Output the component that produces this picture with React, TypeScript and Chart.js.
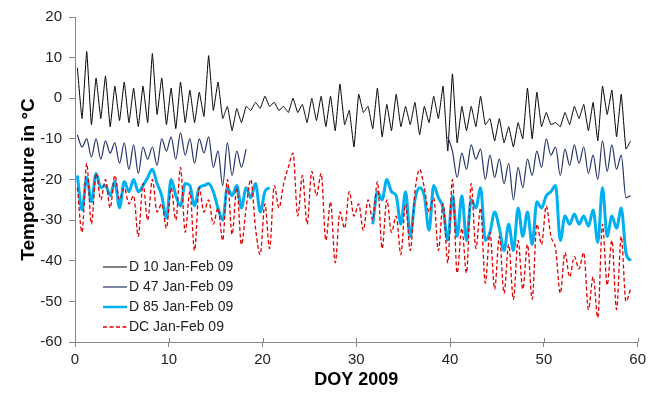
import { useEffect, useRef } from "react";
import { Chart, registerables } from "chart.js";

Chart.register(...registerables);

const FONT = "Arial, 'Liberation Sans', sans-serif";

const SERIES_NAMES = ["D 10 Jan-Feb 09", "D 47 Jan-Feb 09", "D 85 Jan-Feb 09", "DC Jan-Feb 09"];
const X_TICKS = [0, 10, 20, 30, 40, 50, 60];
const Y_TICKS = [-60, -50, -40, -30, -20, -10, 0, 10, 20];
const X_TITLE = "DOY 2009";
const Y_TITLE = "Temperature in °C";

// day-of-year sample points (twice a day)
const DAYS = Array.from({ length: 119 }, (_, i) => 0.25 + i * 0.5);

const D10 = [
  7.5, -5, 11.5, -6.5, 5, -5, 5.5, -7, 3, -5.5,
  4, -6, 2.5, -7, 3, -6, 11, -4, 5, -6.5,
  2.5, -7.5, 4, -6, 2, -6, 1.5, -4.5, 10.5, -3,
  4, -5, -2, -8, -2.5, -6, -2, -3, -1, -2.5,
  0.5, -2, -1, -3, -2, -3.5, 0, -3.5, -1.5, -6,
  0, -5.5, 0.5, -7, 0.5, -8, 3.5, -6.5, -3, -12,
  1, -3.5, -2, -7.5, 2.5, -9.5, -1.5, -8, 1, -7,
  -2, -6.5, -1, -9, -2, -6, 0.5, -5, 3, -13,
  6, -11, -2, -8, -2, -7, 0.5, -6.5, -5, -10.5,
  -5, -11, -7, -12, -6, -10, 2.5, -10, 1.5, -7,
  -3.5, -6.5, -6, -7, -3.5, -6.5, -2, -5, -1.5, -8,
  -1, -10.5, 3, -4, 2, -9.5, 1, -12.5, -10.5,
];

const D47 = [
  -9, -12, -10, -14.5, -10, -15, -10.5, -13.5, -11, -16,
  -11, -17.5, -11.5, -18.5, -12, -15, -12, -16.5, -10, -13,
  -9.5, -15, -8.5, -14, -10, -16, -10, -13.5, -9.5, -17,
  -13, -21.5, -11, -19, -13, -17, -12.5, null, null, null,
  null, null, null, null, null, null, null, null, null, null,
  null, null, null, null, null, null, null, null, null, null,
  null, null, null, null, null, null, null, null, null, null,
  null, null, null, null, null, null, null, null, null, -9.5,
  -13, -19.5, -13.5, -17.5, -11.5, -15, -12.5, -20, -14, -19.5,
  -15, -21, -16, -25, -17, -22, -15, -19, -13, -17,
  -10, -14, -12, -19, -12.5, -16.5, -11.5, -16, -12, -18.5,
  -14, -20, -10.5, -18, -11.5, -17.5, -14, -24.5, -24,
];

const D85 = [
  -19, -27.5, -19.5, -25.5, -18.5, -22, -21.5, -24, -20.5, -27,
  -20.5, -23, -20, -23, -21.5, -19.5, -17.5, -21, -24, -29.5,
  -20, -24, -26.5, -21, -21.5, -26.5, -22, -21.5, -21, -23,
  -27, -30, -22, -24, -21.5, -27, -22, -24.5, -21, -28,
  -23, -22, null, null, null, null, null, null, null, null,
  null, null, null, null, null, null, null, null, null, null,
  null, null, null, -31, -23, -25, -20, -23, -24, -31,
  -23, -34, -25, -22, -24, -32.5, -21.5, -24.5, -27, -35,
  -24, -34, -24, -35, -25, -27, -22, -35, -33, -28,
  -32, -37.5, -31, -37.5, -27, -34, -28, -36, -25.5, -27,
  -24, -23, -21.5, -35, -29, -31, -28.5, -31, -29, -31.5,
  -27.5, -35.5, -22, -34, -29, -32, -27, -38, -40,
];

const DC = [
  -22, -33, -16, -31, -18.5, -25, -20, -27, -19, -25,
  -22, -26, -24, -34, -21, -30, -20, -28, -26, -32,
  -22, -30, -17, -33, -23, -37.5, -22, -28, -25, -31,
  -27, -35, -20, -33.5, -22, -36, -27, -20, -32, -38.5,
  -26, -37, -21.5, -27, -21, -17, -13.5, -29, -19, -31,
  -18, -24, -18.5, -35, -25.5, -40.5, -28, -32, -23, -29,
  -26, -32.5, -25, -30, -20.5, -37, -25, -33, -29, -38.5,
  -26, -37.5, -23, -17.5, -22, -28, -24.5, -37.5, -26, -40.5,
  -20, -43, -32, -43, -21, -37, -27, -45.5, -33, -47,
  -34, -48, -36, -49.5, -35, -47, -36, -49.5, -31, -36,
  -26.5, -34, -37, -48, -38, -44, -39, -42, -38, -52,
  -44, -54, -31, -46, -35, -52, -34, -50, -47,
];

const SERIES = [D10, D47, D85, DC];
const COLORS = ["#000000", "#26346A", "#00B0F0", "#E00000"];
const WIDTHS = [1, 1.2, 3, 1.3];
const DASHES: number[][] = [[], [], [], [4, 2.5]];
const MODES = ["default", "monotone", "monotone", "monotone"];

const AXIS_COLOR = "#868686";

const insideLegend = {
  id: "insideLegend",
  afterDatasetsDraw(chart: any) {
    const { ctx, chartArea } = chart;
    ctx.save();
    ctx.fillStyle = "#ffffff";
    ctx.fillRect(chartArea.left + 24, chartArea.bottom - 85, 140, 82);
    const rows = [75, 55, 35, 15];
    SERIES_NAMES.forEach((name, i) => {
      const y = chartArea.bottom - rows[i];
      ctx.strokeStyle = COLORS[i];
      ctx.lineWidth = i === 2 ? 2.5 : WIDTHS[i];
      ctx.setLineDash(DASHES[i]);
      ctx.beginPath();
      ctx.moveTo(chartArea.left + 28, y);
      ctx.lineTo(chartArea.left + 52, y);
      ctx.stroke();
      ctx.setLineDash([]);
      ctx.fillStyle = "#222222";
      ctx.font = `14px ${FONT}`;
      ctx.textBaseline = "middle";
      ctx.textAlign = "left";
      ctx.fillText(name, chartArea.left + 54, y);
    });
    ctx.restore();
  },
};

const innerTicks = {
  id: "innerTicks",
  afterDraw(chart: any) {
    const { ctx, chartArea, scales } = chart;
    ctx.save();
    ctx.strokeStyle = AXIS_COLOR;
    ctx.lineWidth = 1;
    X_TICKS.forEach((v) => {
      const x = Math.round(scales.x.getPixelForValue(v)) + 0.5;
      ctx.beginPath();
      ctx.moveTo(x, chartArea.bottom - 4);
      ctx.lineTo(x, chartArea.bottom);
      ctx.stroke();
    });
    ctx.restore();
  },
};

export default function App() {
  const canvasRef = useRef<HTMLCanvasElement | null>(null);

  useEffect(() => {
    document.body.style.margin = "0";
    const canvas = canvasRef.current;
    if (!canvas) return;
    const datasets = SERIES.map((vals, i) => ({
      label: SERIES_NAMES[i],
      data: DAYS.map((d, j) => ({ x: d, y: vals[j] })),
      borderColor: COLORS[i],
      backgroundColor: COLORS[i],
      borderWidth: WIDTHS[i],
      borderDash: DASHES[i],
      cubicInterpolationMode: MODES[i],
      tension: i === 0 ? 0.1 : 0.4,
      pointRadius: 0,
      spanGaps: false,
      fill: false,
      order: 4 - i,
    }));
    const chart = new Chart(canvas, {
      type: "line",
      data: { datasets },
      plugins: [insideLegend, innerTicks],
      options: {
        animation: false,
        responsive: true,
        maintainAspectRatio: false,
        layout: { padding: { top: 17, right: 10, left: 0, bottom: 0 } },
        plugins: { legend: { display: false }, tooltip: { enabled: false } },
        scales: {
          x: {
            type: "linear",
            min: 0,
            max: 60,
            afterBuildTicks: (s: any) => {
              s.ticks = X_TICKS.map((v) => ({ value: v }));
            },
            afterFit: (s: any) => {
              s.height = 57;
            },
            ticks: {
              font: { family: FONT, size: 15 },
              color: "#222222",
              padding: 4,
              maxRotation: 0,
              autoSkip: false,
            },
            grid: { drawOnChartArea: false, drawTicks: true, tickLength: 5, color: AXIS_COLOR },
            border: { color: AXIS_COLOR, width: 1 },
            title: {
              display: true,
              text: X_TITLE,
              color: "#000000",
              font: { family: FONT, size: 18, weight: "bold" },
              padding: { top: 0, bottom: 8 },
            },
          },
          y: {
            type: "linear",
            min: -60,
            max: 20,
            afterBuildTicks: (s: any) => {
              s.ticks = Y_TICKS.map((v) => ({ value: v }));
            },
            afterFit: (s: any) => {
              s.width = 75;
            },
            ticks: {
              font: { family: FONT, size: 15 },
              color: "#222222",
              padding: 7,
            },
            grid: { drawOnChartArea: false, drawTicks: true, tickLength: 6, color: AXIS_COLOR },
            border: { color: AXIS_COLOR, width: 1 },
            title: {
              display: true,
              text: Y_TITLE,
              color: "#000000",
              font: { family: FONT, size: 19, weight: "bold" },
              padding: { top: 17, bottom: 0 },
            },
          },
        },
      },
    } as any);
    return () => chart.destroy();
  }, []);

  return (
    <div style={{ width: 650, height: 399, position: "relative", background: "#fff" }}>
      <canvas ref={canvasRef} />
    </div>
  );
}
